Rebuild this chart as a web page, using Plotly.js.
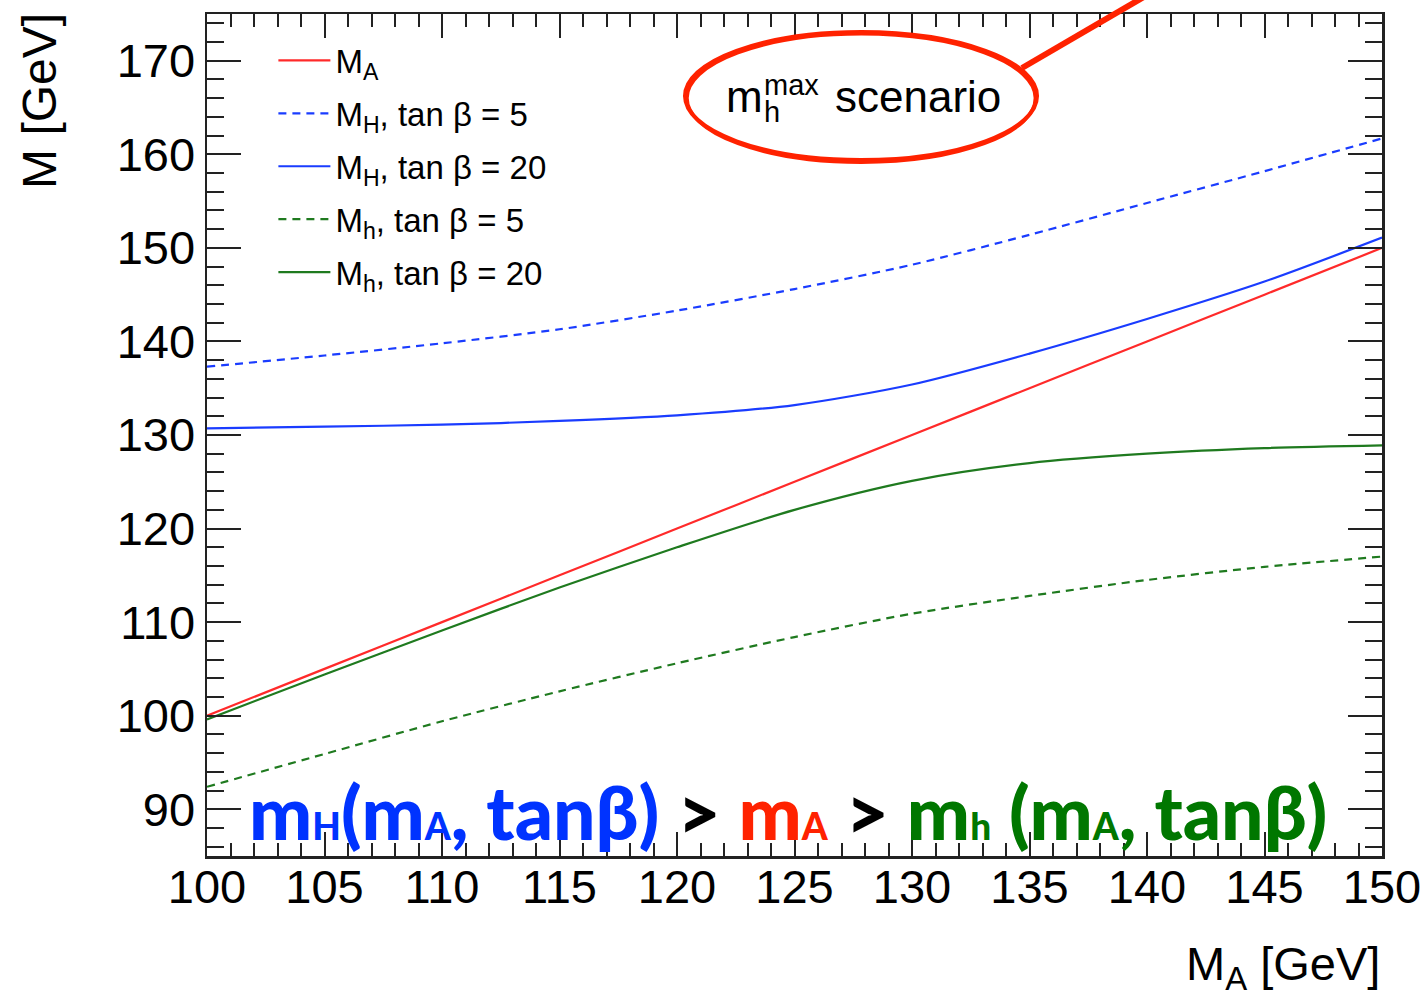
<!DOCTYPE html>
<html>
<head>
<meta charset="utf-8">
<script src="https://cdn.plot.ly/plotly-3.0.1.min.js"></script>
<style>
html,body{margin:0;padding:0;background:#fff;}
#chart{width:1427px;height:999px;}
</style>
</head>
<body>
<div id="chart"></div>
<script>
// Data
const massA = [100, 105, 110, 115, 120, 125, 130, 135, 140, 145, 150];
const curveMA = [100, 105, 110, 115, 120, 125, 130, 135, 140, 145, 150];
const curveMH_tb5 = [137.3, 138.5, 139.8, 141.3, 143.3, 145.6, 148.2, 151.4, 154.8, 158.2, 161.7];
const curveMH_tb20 = [130.7, 130.9, 131.1, 131.5, 132.1, 133.2, 135.4, 138.7, 142.4, 146.4, 151.1];
const curveMh_tb5 = [92.4, 95.9, 99.4, 102.6, 105.6, 108.4, 110.9, 112.8, 114.5, 115.9, 117.0];
const curveMh_tb20 = [99.6, 104.4, 109.1, 113.7, 118.0, 122.0, 125.1, 127.0, 128.0, 128.6, 128.9];

const seriesNames = ['M<sub>A</sub>', 'M<sub>H</sub>, tan β = 5', 'M<sub>H</sub>, tan β = 20', 'M<sub>h</sub>, tan β = 5', 'M<sub>h</sub>, tan β = 20'];
const xTickVals = [100, 105, 110, 115, 120, 125, 130, 135, 140, 145, 150];
const yTickVals = [90, 100, 110, 120, 130, 140, 150, 160, 170];

const RED = '#ff2a2a', BLUE = '#1a3cff', GREEN = '#1f7a1f';
const FONT = 'Liberation Sans, Arial, Helvetica, sans-serif';

function tr(y, name, color, dash, grp) {
  return {x: massA, y: y, name: name, type: 'scatter', mode: 'lines',
    legendgroup: grp,
    line: {color: color, width: 2.2, dash: dash, shape: 'spline', smoothing: 0.8}};
}
const data = [
  tr(curveMA, seriesNames[0], RED, 'solid', 'a'),
  tr(curveMH_tb5, seriesNames[1], BLUE, '8px,6px', 'b'),
  tr(curveMH_tb20, seriesNames[2], BLUE, 'solid', 'c'),
  tr(curveMh_tb5, seriesNames[3], GREEN, '8px,6px', 'd'),
  tr(curveMh_tb20, seriesNames[4], GREEN, 'solid', 'e')
];

const axisCommon = {
  showline: true, linecolor: '#222', linewidth: 2.5, mirror: 'allticks',
  ticks: 'inside', tickcolor: '#222', tickwidth: 2,
  showgrid: false, zeroline: false,
  tickfont: {family: FONT, size: 47, color: '#000'}
};

const sub = (t) => '<span style="font-size:37px">' + t + '</span>';
const bigText =
  '<span style="color:#0033ff">m' + sub('H') + '(m' + sub('A') + ', tanβ)</span> &gt; ' +
  '<span style="color:#ff2200">m' + sub('A') + '</span> &gt; ' +
  '<span style="color:#007700">m' + sub('h') + ' (m' + sub('A') + ', tanβ)</span>';

const layout = {
  width: 1427, height: 999,
  margin: {l: 207, r: 45, t: 14, b: 143},
  paper_bgcolor: '#fff', plot_bgcolor: '#fff',
  font: {family: FONT, color: '#000'},
  showlegend: true,
  legend: {x: 0.0565, y: 0.978, xanchor: 'left', yanchor: 'top',
    bgcolor: 'rgba(0,0,0,0)', font: {family: FONT, size: 33, color: '#000'},
    itemwidth: 52, tracegroupgap: 7},
  xaxis: Object.assign({}, axisCommon, {
    range: [100, 150], tickmode: 'array', tickvals: xTickVals,
    ticklen: 24, ticklabelstandoff: -12,
    minor: {dtick: 1, ticklen: 13, tickcolor: '#222', tickwidth: 2, ticks: 'inside', showgrid: false},
    title: {text: ''}
  }),
  yaxis: Object.assign({}, axisCommon, {
    range: [85, 175], tickmode: 'array', tickvals: yTickVals,
    ticklen: 34,
    minor: {dtick: 2, ticklen: 17, tickcolor: '#222', tickwidth: 2, ticks: 'inside', showgrid: false},
    title: {text: ''}
  }),
  shapes: [
    {type: 'circle', xref: 'paper', yref: 'paper', x0: 0.4068, x1: 0.7064, y0: 0.8266, y1: 0.9786,
     line: {color: '#ff2200', width: 4}},
    {type: 'circle', xref: 'paper', yref: 'paper', x0: 0.4085, x1: 0.7050, y0: 0.8240, y1: 0.9765,
     line: {color: '#ff2200', width: 3.5}},
    {type: 'line', xref: 'paper', yref: 'paper', x0: 0.6936, y0: 0.9359, x1: 0.7970, y1: 1.02,
     line: {color: '#ff2200', width: 6}}
  ],
  annotations: [
    {xref: 'paper', yref: 'paper', x: 1.0, y: -0.132, xanchor: 'right', yanchor: 'middle', showarrow: false,
     text: 'M<sub>A</sub> [GeV]', font: {family: FONT, size: 47, color: '#000'}},
    {xref: 'paper', yref: 'paper', x: -0.142, y: 0.897, xanchor: 'center', yanchor: 'middle', showarrow: false,
     textangle: -90, text: 'M [GeV]', font: {family: FONT, size: 48, color: '#000'}},
    {xref: 'paper', yref: 'paper', x: 0.4400, y: 0.9026, xanchor: 'left', yanchor: 'middle', showarrow: false,
     text: 'm', font: {family: FONT, size: 44, color: '#000'}},
    {xref: 'paper', yref: 'paper', x: 0.4722, y: 0.9157, xanchor: 'left', yanchor: 'middle', showarrow: false,
     text: 'max', font: {family: FONT, size: 29, color: '#000'}},
    {xref: 'paper', yref: 'paper', x: 0.4722, y: 0.8836, xanchor: 'left', yanchor: 'middle', showarrow: false,
     text: 'h', font: {family: FONT, size: 29, color: '#000'}},
    {xref: 'paper', yref: 'paper', x: 0.5328, y: 0.9026, xanchor: 'left', yanchor: 'middle', showarrow: false,
     text: 'scenario', font: {family: FONT, size: 44, color: '#000'}},
    {xref: 'paper', yref: 'paper', x: 0.4945, y: 0.054, xanchor: 'center', yanchor: 'middle', showarrow: false,
     text: bigText,
     font: {family: 'Lato, Open Sans, sans-serif', size: 75, color: '#000', weight: 900}}
  ]
};

Plotly.newPlot('chart', data, layout, {displayModeBar: false, staticPlot: true});
</script>
</body>
</html>
